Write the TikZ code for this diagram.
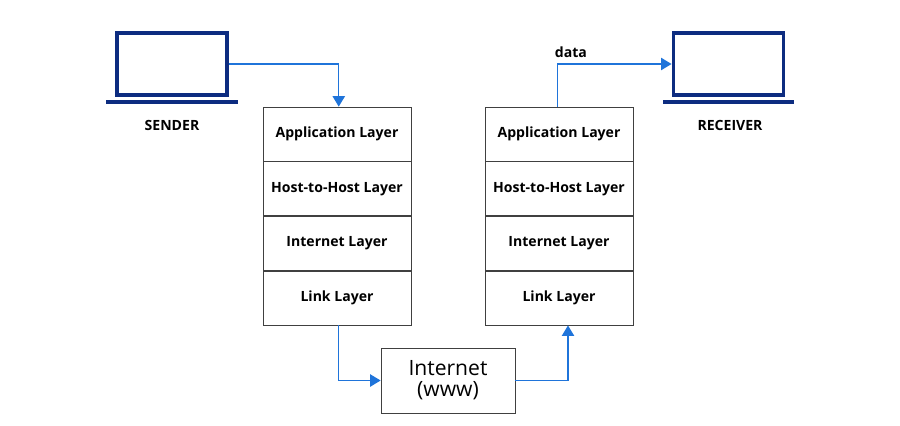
\documentclass[tikz,border=0pt]{standalone}
\usepackage{fontspec}
\setmainfont{Open Sans}
\usetikzlibrary{positioning,arrows.meta}
\definecolor{navy}{HTML}{0D2C80}
\definecolor{linkblue}{HTML}{1F74DA}
\begin{document}
\begin{tikzpicture}[%
      x=0.02cm, y=-0.02cm,
      layer/.style={draw=black!75, minimum width=2.96cm, minimum height=1.08cm,
                    font={\footnotesize\bfseries}, inner sep=0pt},
      screen/.style={draw=navy, line width=2.2pt, minimum width=2.2cm,
                     minimum height=1.24cm, inner sep=0pt},
      base/.style={fill=navy, minimum width=2.64cm, minimum height=0.08cm, inner sep=0pt},
      flow/.style={linkblue, thick, -{Triangle[length=6pt,width=7pt]}},
      caption/.style={font={\footnotesize\bfseries}}
    ]
    \useasboundingbox (0,0) rectangle (900,426);
    % computers
    \node [screen] (S screen) at (172,64) {};
    \node [base] (S base) at (172,101.5) {};
    \node [caption] (S label) at (172,125) {SENDER};
    \node [screen] (R screen) at (728.5,64) {};
    \node [base] (R base) at (728.5,101.5) {};
    \node [caption] (R label) at (730,125) {RECEIVER};
    % stacks
    \foreach \side/\x in {L/337,R/559}{
      \node [layer] (\side 1) at (\x,134) {Application Layer};
      \node [layer, below=0pt of \side 1] (\side 2) {Host-to-Host Layer};
      \node [layer, below=0pt of \side 2] (\side 3) {Internet Layer};
      \node [layer, below=0pt of \side 3] (\side 4) {Link Layer};
    }
    \node [draw=black!75, minimum width=2.68cm, minimum height=1.3cm, align=center,
           font={\large}, inner sep=0pt] (net) at (448,380.5)
     {Internet\\[-2pt](www)};
    % data path
    \draw [flow] (S screen.east) -| ([xshift=1pt]L1.north);
    \draw [flow] ([xshift=1pt]L4.south) |- (net.west);
    \draw [flow] (net.east) -| ([xshift=0.18cm]R4.south);
    \draw [flow] ([xshift=-1pt]R1.north) |- node [pos=0.56, above, black, font={\footnotesize\bfseries}] {data} (R screen.west);
\end{tikzpicture}
\end{document}
